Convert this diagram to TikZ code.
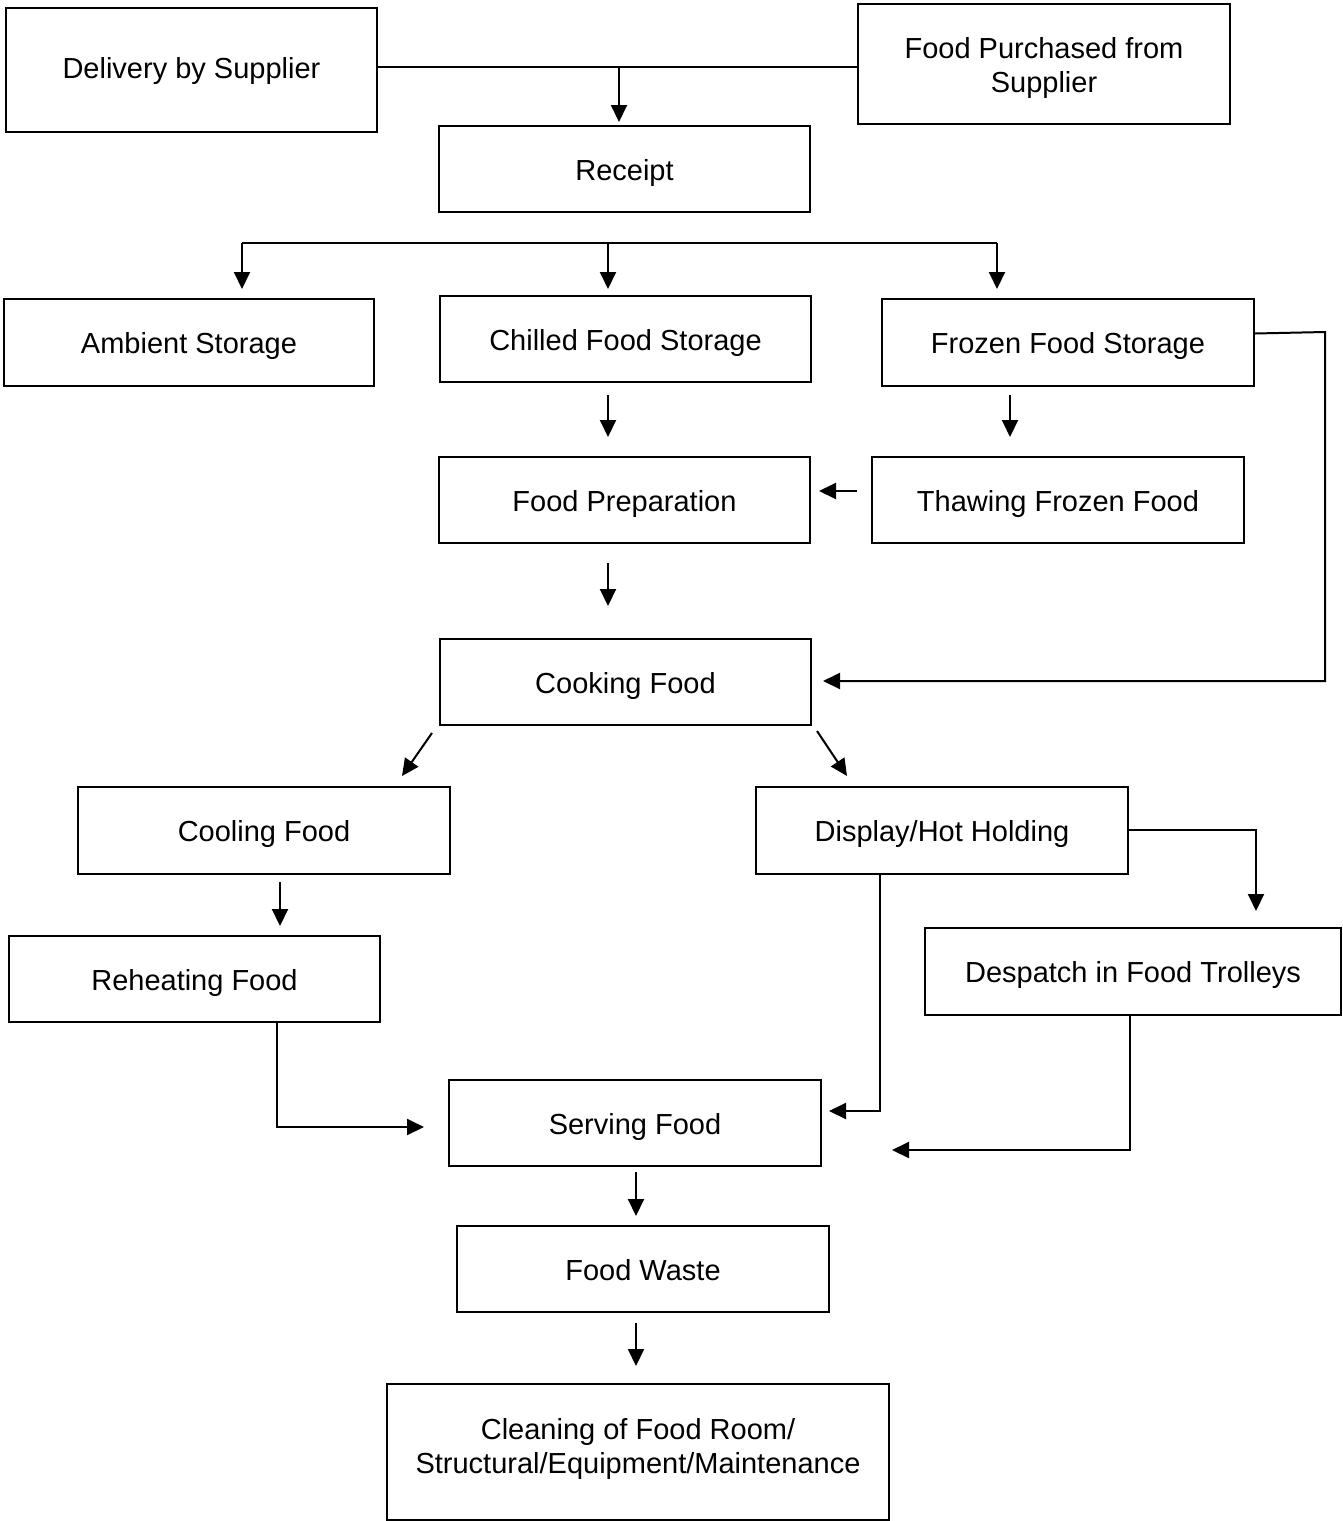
\documentclass[tikz,border=0pt]{standalone}
\usepackage{fontspec}
\setmainfont{Liberation Sans}
\usetikzlibrary{arrows.meta}
\begin{document}
\begin{tikzpicture}[x=1pt,y=-1pt,
  box/.style={draw,line width=2pt,inner sep=0pt,minimum width=371pt,minimum height=86pt,align=center,font=\fontsize{29}{34}\selectfont,text height=22pt,text depth=0pt},
  box2/.style={draw,line width=2pt,inner sep=0pt},
  txt/.style={inner sep=0pt,align=center,font=\fontsize{29}{34}\selectfont},
  conn/.style={line width=2pt},
  arr/.style={line width=2pt,-{Triangle[length=17pt,width=16pt]}}]
\useasboundingbox (0,0) rectangle (1342,1521);
\node[box,minimum height=124pt,text height=16pt] (deliv) at (191.5,70) {Delivery by Supplier};
\node[box2,minimum width=372pt,minimum height=120pt,label={[txt,yshift=-4pt]center:Food Purchased from\\Supplier}] (purch) at (1044,64) {};
\node[box] (receipt) at (624.5,169) {Receipt};
\node[box,minimum width=370pt,minimum height=87pt] (ambient) at (189,342.5) {Ambient Storage};
\node[box] (chilled) at (625.5,339) {Chilled Food Storage};
\node[box,minimum width=372pt,minimum height=87pt] (frozen) at (1068,342.5) {Frozen Food Storage};
\node[box] (prep) at (624.5,500) {Food Preparation};
\node[box,minimum width=372pt] (thaw) at (1058,500) {Thawing Frozen Food};
\node[box] (cook) at (625.5,682) {Cooking Food};
\node[box,minimum width=372pt,minimum height=87pt] (cool) at (264,830.5) {Cooling Food};
\node[box,minimum width=372pt,minimum height=87pt] (display) at (942,830.5) {Display/Hot Holding};
\node[box] (reheat) at (194.5,979) {Reheating Food};
\node[box,minimum width=416pt,minimum height=87pt] (despatch) at (1133,971.5) {Despatch in Food Trolleys};
\node[box,minimum width=372pt] (serve) at (635,1123) {Serving Food};
\node[box,minimum width=372pt] (waste) at (643,1269) {Food Waste};
\node[box2,minimum width=502pt,minimum height=136pt,label={[txt,yshift=3pt]center:Cleaning of Food Room/\\Structural/Equipment/Maintenance}] (clean) at (638,1452) {};
% supplier to receipt
\coordinate (j1) at (619,67);
\draw[conn] (deliv.east|-j1) -- (purch.west|-j1);
\draw[arr] (j1) -- ([yshift=3pt]receipt.north-|j1);
% distribution bar
\coordinate (b1) at (242,243);
\coordinate (b2) at (608,243);
\coordinate (b3) at (997,243);
\draw[conn] (b1) -- (b3);
\draw[arr] (b1) -- ([yshift=9pt]ambient.north-|b1);
\draw[arr] (b2) -- ([yshift=6pt]chilled.north-|b2);
\draw[arr] (b3) -- ([yshift=9pt]frozen.north-|b3);
% chilled -> prep
\coordinate (c1) at (608,395);
\draw[arr] (c1) -- ([yshift=19pt]prep.north-|c1);
% frozen -> thaw
\coordinate (c2) at (1010,395);
\draw[arr] (c2) -- ([yshift=19pt]thaw.north-|c2);
% thaw -> prep
\coordinate (c3) at (857,491);
\draw[arr] (c3) -- ([xshift=8pt]prep.east|-c3);
% prep -> cook
\coordinate (c4) at (608,563);
\draw[arr] (c4) -- ([yshift=32pt]cook.north-|c4);
% frozen -> cook
\coordinate (f1) at (1325,332);
\coordinate (f2) at (1325,681);
\draw[arr] ([yshift=9pt]frozen.east) -- (f1) -- (f2) -- ([xshift=11pt]cook.east|-f2);
% cook -> cool / display
\coordinate (d1) at (432,733);
\coordinate (d2) at (402,776);
\coordinate (d3) at (817,731);
\coordinate (d4) at (847,776);
\draw[arr] (d1) -- (d2);
\draw[arr] (d3) -- (d4);
% display -> despatch
\coordinate (e1) at (1256,830);
\draw[arr] (display.east|-e1) -- (e1) -- ([yshift=16pt]despatch.north-|e1);
% cool -> reheat
\coordinate (g1) at (280,882);
\draw[arr] (g1) -- ([yshift=9pt]reheat.north-|g1);
% reheat -> serve
\coordinate (h1) at (277,1127);
\draw[arr] (reheat.south-|h1) -- (h1) -- ([xshift=-24pt]serve.west|-h1);
% display -> serve
\coordinate (h2) at (880,1111);
\draw[arr] (display.south-|h2) -- (h2) -- ([xshift=7pt]serve.east|-h2);
% despatch -> serve
\coordinate (h3) at (1130,1150);
\draw[arr] (despatch.south-|h3) -- (h3) -- ([xshift=70pt]serve.east|-h3);
% serve -> waste -> clean
\coordinate (k1) at (636,1172);
\draw[arr] (k1) -- ([yshift=9pt]waste.north-|k1);
\coordinate (k2) at (636,1323);
\draw[arr] (k2) -- ([yshift=17pt]clean.north-|k2);
\end{tikzpicture}
\end{document}
